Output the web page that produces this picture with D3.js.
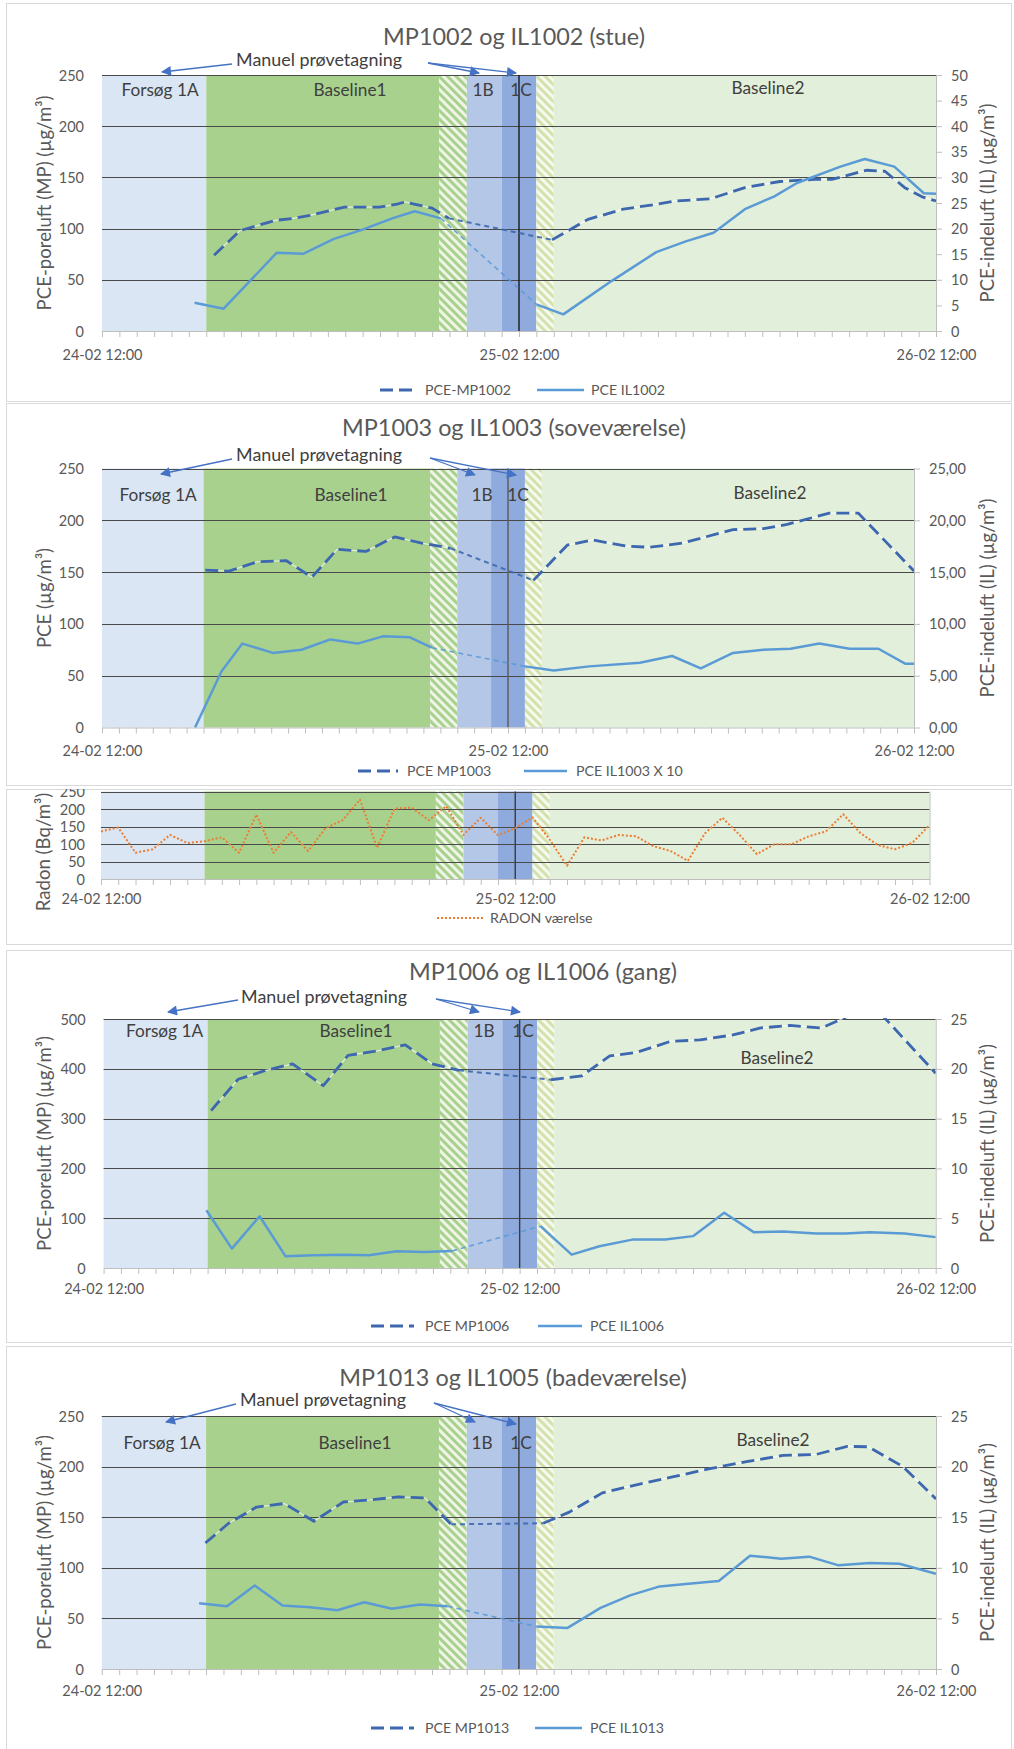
<!DOCTYPE html>
<html lang="da">
<head>
<meta charset="utf-8">
<title>PCE og radon – MP/IL målinger</title>
<script src="https://cdn.jsdelivr.net/npm/d3@7"></script>
<style>
  html, body { margin: 0; padding: 0; background: #fff; }
  svg { display: block; }
  text { font-family: Lato, "Noto Sans", sans-serif; }
</style>
</head>
<body>
<svg id="chart" width="1014" height="1749"></svg>
<script>
// ---------------------------------------------------------------
// Data. Time is in hours after 24-02 12:00.
// ---------------------------------------------------------------
const periodLabels = ["Forsøg 1A", "Baseline1", "", "1B", "1C", "", "Baseline2"];
const periodFrom   = [0, 6, 19.4, 21, 23, 25, 26];
const periodTo     = [6, 19.4, 21, 23, 25, 26, 48];

// Stue: poreluft MP1002 (µg/m³, left axis) and indeluft IL1002 (µg/m³, right axis)
const mp1002 = [[6.45,74],[7.94,98],[9.96,108],[11,110],[11.97,113],[12.98,117],[13.96,121],[15,121],
  [15.96,121],[16.98,124],[17.44,126],[17.96,124],[19,120],[19.97,110],[25.9,89],[27.97,109],[30,119],
  [32.02,124],[32.98,127],[34.99,129],[37,140],[39.02,146],[41.04,148],[42,148],[44,157],[45.06,156],
  [46.2,140],[47.2,131],[48,127]];
const il1002 = [[5.33,5.5],[7,4.35],[10.06,15.3],[11.6,15.1],[13.35,18],[15,19.8],[16.7,22],[18,23.4],
  [19.5,22],[25,5.2],[26.55,3.25],[29.3,9.7],[31.9,15.4],[33.6,17.5],[35.2,19.2],[37,23.8],[38.7,26.3],
  [40,28.9],[42.5,32.1],[43.9,33.6],[45.6,32.1],[47.3,26.9],[48,26.8]];

// Soveværelse: MP1003 and IL1003
const mp1003 = [[6.1,152],[7.5,151],[9.2,160],[10.9,161],[12.4,145],[13.9,172],[15.6,170],[17.3,184],
  [18.9,178],[20.6,173],[25.5,142],[27.5,176],[29,181],[31,175],[32.4,174],[34.3,178],[37.3,191],
  [39.1,192],[40.5,196],[43,207],[44.7,207],[48,151]];
const il1003 = [[5.5,0],[7.06,5.4],[8.3,8.1],[10.1,7.2],[11.8,7.5],[13.5,8.5],[15.1,8.1],[16.6,8.8],
  [18.2,8.7],[19.5,7.7],[25,5.9],[26.7,5.5],[28.8,5.9],[31.8,6.25],[33.7,6.9],[35.4,5.7],[37.3,7.2],
  [39.1,7.5],[40.7,7.6],[42.4,8.1],[44.2,7.6],[45.9,7.6],[47.5,6.15],[48,6.15]];

// Radon i værelset (Bq/m³), one reading per hour from 24-02 12:00
const radonValues = [136,147,75,85,126,103,108,119,75,184,75,134,80,145,168,227,89,201,204,168,208,126,
  175,125,145,176,112,38,119,110,126,122,94,80,52,131,175,126,71,99,99,122,136,185,131,97,85,103,154];

// Gang: MP1006 and IL1006
const mp1006 = [[6.2,316],[7.76,379],[9.37,397],[10.9,410],[12.67,366],[14.1,427],[15.8,436],[17.4,448],
  [18.95,410],[20.5,397],[25.8,378],[27.6,386],[29.2,426],[30.75,433],[32.7,455],[34.4,458],[36.3,468],
  [37.9,482],[39.6,487],[41.4,482],[43.1,508],[44.9,508],[48,391]];
const il1006 = [[5.93,5.8],[7.4,1.95],[9,5.2],[10.5,1.17],[12.1,1.27],[13.8,1.34],[15.3,1.27],[16.9,1.68],
  [18.5,1.61],[20.1,1.71],[25.2,4.2],[27,1.34],[28.6,2.18],[30.5,2.85],[32.4,2.85],[34,3.2],[35.8,5.54],
  [37.5,3.6],[39.2,3.66],[41.1,3.46],[42.8,3.46],[44.2,3.6],[46.2,3.46],[48,3.1]];

// Badeværelse: MP1013 and IL1005 (legend: IL1013)
const mp1013 = [[5.96,124.5],[7.3,144],[8.9,160],[10.5,163.5],[12.2,146],[13.9,165],[15.4,167],[17.05,170],
  [18.6,169],[20.1,143],[25.4,144],[26.9,155],[28.8,174],[31,183],[32.9,190],[35,198],[37.1,205],
  [39.2,211],[41.1,212],[42.9,220],[44.1,219.6],[46.1,200],[48,168]];
const il1013 = [[5.6,6.5],[7.2,6.2],[8.8,8.26],[10.4,6.27],[12,6.1],[13.55,5.8],[15.1,6.6],[16.7,5.95],
  [18.3,6.37],[19.9,6.2],[25,4.2],[26.8,4.06],[28.7,6.04],[30.4,7.27],[32.1,8.16],[33.6,8.4],[35.5,8.7],
  [37.3,11.2],[39.1,10.9],[40.7,11.1],[42.4,10.24],[44.2,10.47],[45.9,10.4],[48,9.4]];

// ---------------------------------------------------------------
const svg = d3.select("#chart");
const t0 = new Date(2020, 1, 24, 12, 0);
const at = h => new Date(+t0 + h * 3600e3);
const fmtTime = d3.timeFormat("%d-%m %H:%M");
const daLocale = d3.formatLocale({decimal: ",", thousands: ".", grouping: [3], currency: ["", " kr"]});

const MP_COLOR = "#3D67AE", IL_COLOR = "#5B9BD5", ARROW = "#4472C4";
const periodFill = ["#DAE6F3", "#A9D18E", "url(#hatchA)", "#B4C7E7", "#8FAADC", "url(#hatchB)", "#E2EFDA"];

const defs = svg.append("defs");
function hatch(id, bg, fg) {
  const p = defs.append("pattern").attr("id", id).attr("patternUnits", "userSpaceOnUse")
    .attr("width", 6).attr("height", 6).attr("patternTransform", "rotate(-45)");
  p.append("rect").attr("width", 6).attr("height", 6).attr("fill", bg);
  p.append("rect").attr("width", 3).attr("height", 6).attr("fill", fg);
}
hatch("hatchA", "#A9D18E", "#EEF4E6");
hatch("hatchB", "#F6F9EE", "#D3E2AD");
defs.append("marker").attr("id", "arrowHead").attr("viewBox", "0 0 10 10")
  .attr("refX", 9).attr("refY", 5).attr("markerUnits", "userSpaceOnUse")
  .attr("markerWidth", 11).attr("markerHeight", 10).attr("orient", "auto")
  .append("path").attr("d", "M0,0 L10,5 L0,10 z").attr("fill", ARROW);

// Font size that makes a sample string span a given width
function fitSize(str, target) {
  const t = svg.append("text").style("font-size", "100px").text(str);
  const w = t.node().getComputedTextLength();
  t.remove();
  return 100 * target / w;
}
const FS = {
  title: fitSize("MP1002 og IL1002 (stue)", 262),
  manuel: fitSize("Manuel prøvetagning", 166),
  region: fitSize("Baseline1", 73),
  tick: fitSize("24-02 12:00", 80),
  axisTitle: fitSize("PCE-poreluft (MP) (µg/m³)", 215),
  legend: fitSize("PCE IL1002", 74)
};

function segments(data, maxGap) {
  const runs = [[data[0]]], bridges = [];
  for (let i = 1; i < data.length; i++) {
    if (data[i][0] - data[i - 1][0] > maxGap) {
      bridges.push([data[i - 1], data[i]]);
      runs.push([data[i]]);
    } else runs[runs.length - 1].push(data[i]);
  }
  return {runs, bridges};
}

function drawSeries(g, x, y, s) {
  const line = d3.line().x(d => x(at(d[0]))).y(d => y(d[1]));
  const {runs, bridges} = segments(s.data, 4);
  bridges.forEach(b => g.append("path").attr("d", line(b)).attr("fill", "none")
    .attr("stroke", s.color).attr("stroke-opacity", s.bridgeOpacity)
    .attr("stroke-width", s.bridgeWidth).attr("stroke-dasharray", "5,4"));
  runs.forEach(r => {
    if (s.halo) g.append("path").attr("d", line(r)).attr("fill", "none")
      .attr("stroke", "#ffffff").attr("stroke-opacity", 0.65).attr("stroke-width", 1.2);
    g.append("path").attr("d", line(r)).attr("fill", "none")
      .attr("stroke", s.color).attr("stroke-width", s.width)
      .attr("stroke-dasharray", s.dash || null).attr("stroke-linejoin", "round");
  });
}

function styleText(sel, size, color) {
  sel.style("font-size", size + "px").attr("fill", color);
}

function drawPanel(c) {
  const g = svg.append("g");
  const [bx0, by0, bx1, by1] = c.box;
  const clipId = "clipBox" + c.id;
  defs.append("clipPath").attr("id", clipId).append("rect")
    .attr("x", bx0).attr("y", by0).attr("width", bx1 - bx0).attr("height", by1 - by0);
  const root = g.attr("clip-path", `url(#${clipId})`);
  root.append("rect").attr("x", bx0 + 0.5).attr("y", by0 + 0.5)
    .attr("width", bx1 - bx0 - 1).attr("height", by1 - by0 - 1)
    .attr("fill", "#fff").attr("stroke", "#d9d9d9");

  const [x0, y0, x1, y1] = c.plot;
  const x = d3.scaleTime().domain([at(0), at(48)]).range([x0, x1]);
  const yL = d3.scaleLinear().domain([0, c.leftMax]).range([y1, y0]);
  const yR = c.rightMax ? d3.scaleLinear().domain([0, c.rightMax]).range([y1, y0]) : null;

  // Experiment periods
  root.append("g").selectAll("rect").data(d3.range(periodFrom.length)).join("rect")
    .attr("x", i => x(at(periodFrom[i])))
    .attr("width", i => x(at(periodTo[i])) - x(at(periodFrom[i])))
    .attr("y", y0).attr("height", y1 - y0).attr("fill", i => periodFill[i]);

  // Horizontal gridlines
  const leftTicks = d3.range(0, c.leftMax + 1e-9, c.leftStep);
  root.append("g").selectAll("line").data(leftTicks.filter(v => v > 0)).join("line")
    .attr("x1", x0).attr("x2", x1).attr("y1", d => Math.round(yL(d)) + 0.5).attr("y2", d => Math.round(yL(d)) + 0.5)
    .attr("stroke", "#4a4a4a").attr("stroke-width", 1);

  // Sampling time marker 25-02 12:00
  root.append("line").attr("x1", x(at(24))).attr("x2", x(at(24))).attr("y1", y0).attr("y2", y1)
    .attr("stroke", c.markColor).attr("stroke-width", 1.4);

  // Plot right edge
  root.append("line").attr("x1", x1 + 0.5).attr("x2", x1 + 0.5).attr("y1", y0).attr("y2", y1)
    .attr("stroke", "#bfbfbf");

  // Period labels
  if (c.regionPos) {
    const names = periodLabels.filter(n => n);
    names.forEach((n, i) => {
      root.append("text").attr("x", c.regionPos[i][0]).attr("y", c.regionPos[i][1])
        .attr("text-anchor", "middle").attr("dy", "0.35em").text(n)
        .call(styleText, FS.region, "#3f3f3f");
    });
  }

  // Series
  const lines = root.append("g");
  defs.append("clipPath").attr("id", "clipPlot" + c.id).append("rect")
    .attr("x", x0).attr("y", y0 - 1).attr("width", x1 - x0).attr("height", y1 - y0 + 2);
  lines.attr("clip-path", `url(#clipPlot${c.id})`);
  c.series.forEach(s => drawSeries(lines, x, s.axis === "right" ? yR : yL, s));

  // X axis
  const xAxis = d3.axisBottom(x).ticks(d3.timeHour.every(1)).tickSize(6).tickSizeOuter(0)
    .tickFormat(d => (Math.round((d - t0) / 3600e3) % 24 === 0 ? fmtTime(d) : ""));
  const gx = root.append("g").attr("transform", `translate(0,${y1})`).call(xAxis);
  gx.select(".domain").attr("stroke", "#bfbfbf");
  gx.selectAll(".tick line").attr("stroke", "#bfbfbf");
  gx.selectAll(".tick text").attr("y", c.xLabelOff).attr("dy", "0.35em")
    .style("font-family", null).call(styleText, FS.tick, "#595959");

  // Left axis
  const gl = root.append("g").attr("transform", `translate(${x0},0)`)
    .call(d3.axisLeft(yL).tickValues(leftTicks).tickSize(0).tickPadding(c.leftPad).tickFormat(d3.format("d")));
  gl.select(".domain").remove();
  gl.selectAll("text").attr("dy", "0.35em").style("font-family", null).call(styleText, FS.tick, "#595959");

  // Right axis
  if (yR) {
    const gr = root.append("g").attr("transform", `translate(${x1},0)`)
      .call(d3.axisRight(yR).tickValues(d3.range(0, c.rightMax + 1e-9, c.rightStep))
        .tickSize(6).tickPadding(9).tickFormat(c.rightFmt));
    gr.select(".domain").remove();
    gr.selectAll("line").attr("stroke", "#bfbfbf");
    gr.selectAll("text").attr("dy", "0.35em").style("font-family", null).call(styleText, FS.tick, "#595959");
  }

  // Axis titles
  const my = (y0 + y1) / 2;
  root.append("text").attr("transform", `translate(${c.leftTitleX},${c.leftTitleY || my}) rotate(-90)`)
    .attr("text-anchor", "middle").attr("dy", "0.35em").text(c.leftTitle)
    .call(styleText, FS.axisTitle, "#595959");
  if (c.rightTitle) {
    root.append("text").attr("transform", `translate(${c.rightTitleX},${my}) rotate(-90)`)
      .attr("text-anchor", "middle").attr("dy", "0.35em").text(c.rightTitle)
      .call(styleText, FS.axisTitle, "#595959");
  }

  // Chart title
  if (c.title) {
    root.append("text").attr("x", c.titleX).attr("y", c.titleY).attr("text-anchor", "middle")
      .attr("dy", "0.35em").text(c.title).call(styleText, FS.title, "#595959");
  }

  // "Manuel prøvetagning" note with arrows
  if (c.note) {
    const n = c.note;
    root.append("text").attr("x", n.x).attr("y", n.y).attr("text-anchor", "middle")
      .attr("dy", "0.35em").text("Manuel prøvetagning").call(styleText, FS.manuel, "#404040");
    n.arrows.forEach(a => root.append("line")
      .attr("x1", a[0]).attr("y1", a[1]).attr("x2", a[2]).attr("y2", a[3])
      .attr("stroke", ARROW).attr("stroke-width", 1.3).attr("marker-end", "url(#arrowHead)"));
  }

  // Legend
  c.legend.forEach(L => {
    const lg = root.append("g");
    lg.append("line").attr("x1", L.x1).attr("x2", L.x2).attr("y1", c.legendY).attr("y2", c.legendY)
      .attr("stroke", L.s.color).attr("stroke-width", L.s.width)
      .attr("stroke-dasharray", L.s.dash || null);
    lg.append("text").attr("x", L.tx).attr("y", c.legendY).attr("dy", "0.35em").text(L.label)
      .call(styleText, FS.legend, "#595959");
  });
}

const mpStyle = d => ({data: d, axis: "left", color: MP_COLOR, width: 2.8, dash: "13,6", halo: true,
  bridgeWidth: 2, bridgeOpacity: 0.9});
const ilStyle = d => ({data: d, axis: "right", color: IL_COLOR, width: 2.5, bridgeWidth: 1.6, bridgeOpacity: 0.9});
const radonStyle = {data: radonValues.map((v, i) => [i, v]), axis: "left", color: "#ED7D31",
  width: 2, dash: "2,2", bridgeWidth: 2, bridgeOpacity: 1};

const s1 = [mpStyle(mp1002), ilStyle(il1002)];
const s2 = [mpStyle(mp1003), ilStyle(il1003)];
const s3 = [mpStyle(mp1006), ilStyle(il1006)];
const s4 = [mpStyle(mp1013), ilStyle(il1013)];

const panels = [
  {id: 1, box: [6, 3, 1012, 402], plot: [102, 75, 936, 331], leftMax: 250, leftStep: 50,
   rightMax: 50, rightStep: 5, rightFmt: d3.format("d"), leftPad: 18, xLabelOff: 24,
   title: "MP1002 og IL1002 (stue)", titleX: 514, titleY: 37, markColor: "#1a1a1a",
   leftTitle: "PCE-poreluft (MP) (µg/m³)", leftTitleX: 44, rightTitle: "PCE-indeluft (IL) (µg/m³)", rightTitleX: 987,
   regionPos: [[160, 90], [350, 90], [483, 90], [521, 90], [768, 88]],
   note: {x: 319, y: 60, arrows: [[232, 64, 162, 72], [428, 63, 479, 73], [428, 63, 516, 73]]},
   series: s1, legendY: 390,
   legend: [{x1: 380, x2: 414, tx: 425, label: "PCE-MP1002", s: s1[0]},
            {x1: 537, x2: 584, tx: 591, label: "PCE IL1002", s: s1[1]}]},
  {id: 2, box: [6, 403, 1012, 786], plot: [102, 468.5, 914, 727.5], leftMax: 250, leftStep: 50,
   rightMax: 25, rightStep: 5, rightFmt: daLocale.format(".2f"), leftPad: 18, xLabelOff: 23,
   title: "MP1003 og IL1003 (soveværelse)", titleX: 514, titleY: 428, markColor: "#5a5a5a",
   leftTitle: "PCE  (µg/m³)", leftTitleX: 44, rightTitle: "PCE-indeluft (IL) (µg/m³)", rightTitleX: 987,
   regionPos: [[158, 495], [351, 495], [482, 495], [518, 495], [770, 493]],
   note: {x: 319, y: 455, arrows: [[232, 459, 161, 474], [430, 458, 475, 475], [430, 458, 516, 475]]},
   series: s2, legendY: 771,
   legend: [{x1: 358, x2: 398, tx: 407, label: "PCE MP1003", s: s2[0]},
            {x1: 524, x2: 567, tx: 576, label: "PCE IL1003 X 10", s: s2[1]}]},
  {id: 5, box: [6, 789, 1012, 945], plot: [101, 791.5, 929.5, 879], leftMax: 250, leftStep: 50,
   leftPad: 16, xLabelOff: 20, markColor: "#3a3a3a",
   leftTitle: "Radon (Bq/m³)", leftTitleX: 43, leftTitleY: 852,
   series: [radonStyle], legendY: 918,
   legend: [{x1: 437, x2: 483, tx: 490, label: "RADON værelse", s: radonStyle}]},
  {id: 3, box: [6, 950, 1012, 1343], plot: [103.6, 1019, 935.7, 1268], leftMax: 500, leftStep: 100,
   rightMax: 25, rightStep: 5, rightFmt: d3.format("d"), leftPad: 18, xLabelOff: 21,
   title: "MP1006 og IL1006 (gang)", titleX: 543, titleY: 972, markColor: "#3a3a3a",
   leftTitle: "PCE-poreluft (MP) (µg/m³)", leftTitleX: 44, rightTitle: "PCE-indeluft (IL) (µg/m³)", rightTitleX: 987,
   regionPos: [[164.5, 1031], [356, 1031], [484, 1031], [523, 1031], [777, 1058]],
   note: {x: 324, y: 997, arrows: [[238, 1000, 168, 1012], [436, 999, 479, 1012], [436, 999, 520, 1012]]},
   series: s3, legendY: 1326,
   legend: [{x1: 371, x2: 414, tx: 425, label: "PCE MP1006", s: s3[0]},
            {x1: 538, x2: 582, tx: 590, label: "PCE IL1006", s: s3[1]}]},
  {id: 4, box: [6, 1346, 1012, 1760], plot: [101.8, 1416, 936, 1669], leftMax: 250, leftStep: 50,
   rightMax: 25, rightStep: 5, rightFmt: d3.format("d"), leftPad: 18, xLabelOff: 22,
   title: "MP1013 og IL1005 (badeværelse)", titleX: 513, titleY: 1378, markColor: "#3a3a3a",
   leftTitle: "PCE-poreluft (MP) (µg/m³)", leftTitleX: 44, rightTitle: "PCE-indeluft (IL) (µg/m³)", rightTitleX: 987,
   regionPos: [[162, 1443], [355, 1443], [482, 1443], [521, 1443], [773, 1440]],
   note: {x: 323, y: 1400, arrows: [[236, 1404, 166, 1422], [434, 1403, 475, 1422], [434, 1403, 516, 1424]]},
   series: s4, legendY: 1728,
   legend: [{x1: 371, x2: 414, tx: 425, label: "PCE MP1013", s: s4[0]},
            {x1: 535, x2: 582, tx: 590, label: "PCE IL1013", s: s4[1]}]}
];

panels.forEach(drawPanel);
</script>
</body>
</html>
